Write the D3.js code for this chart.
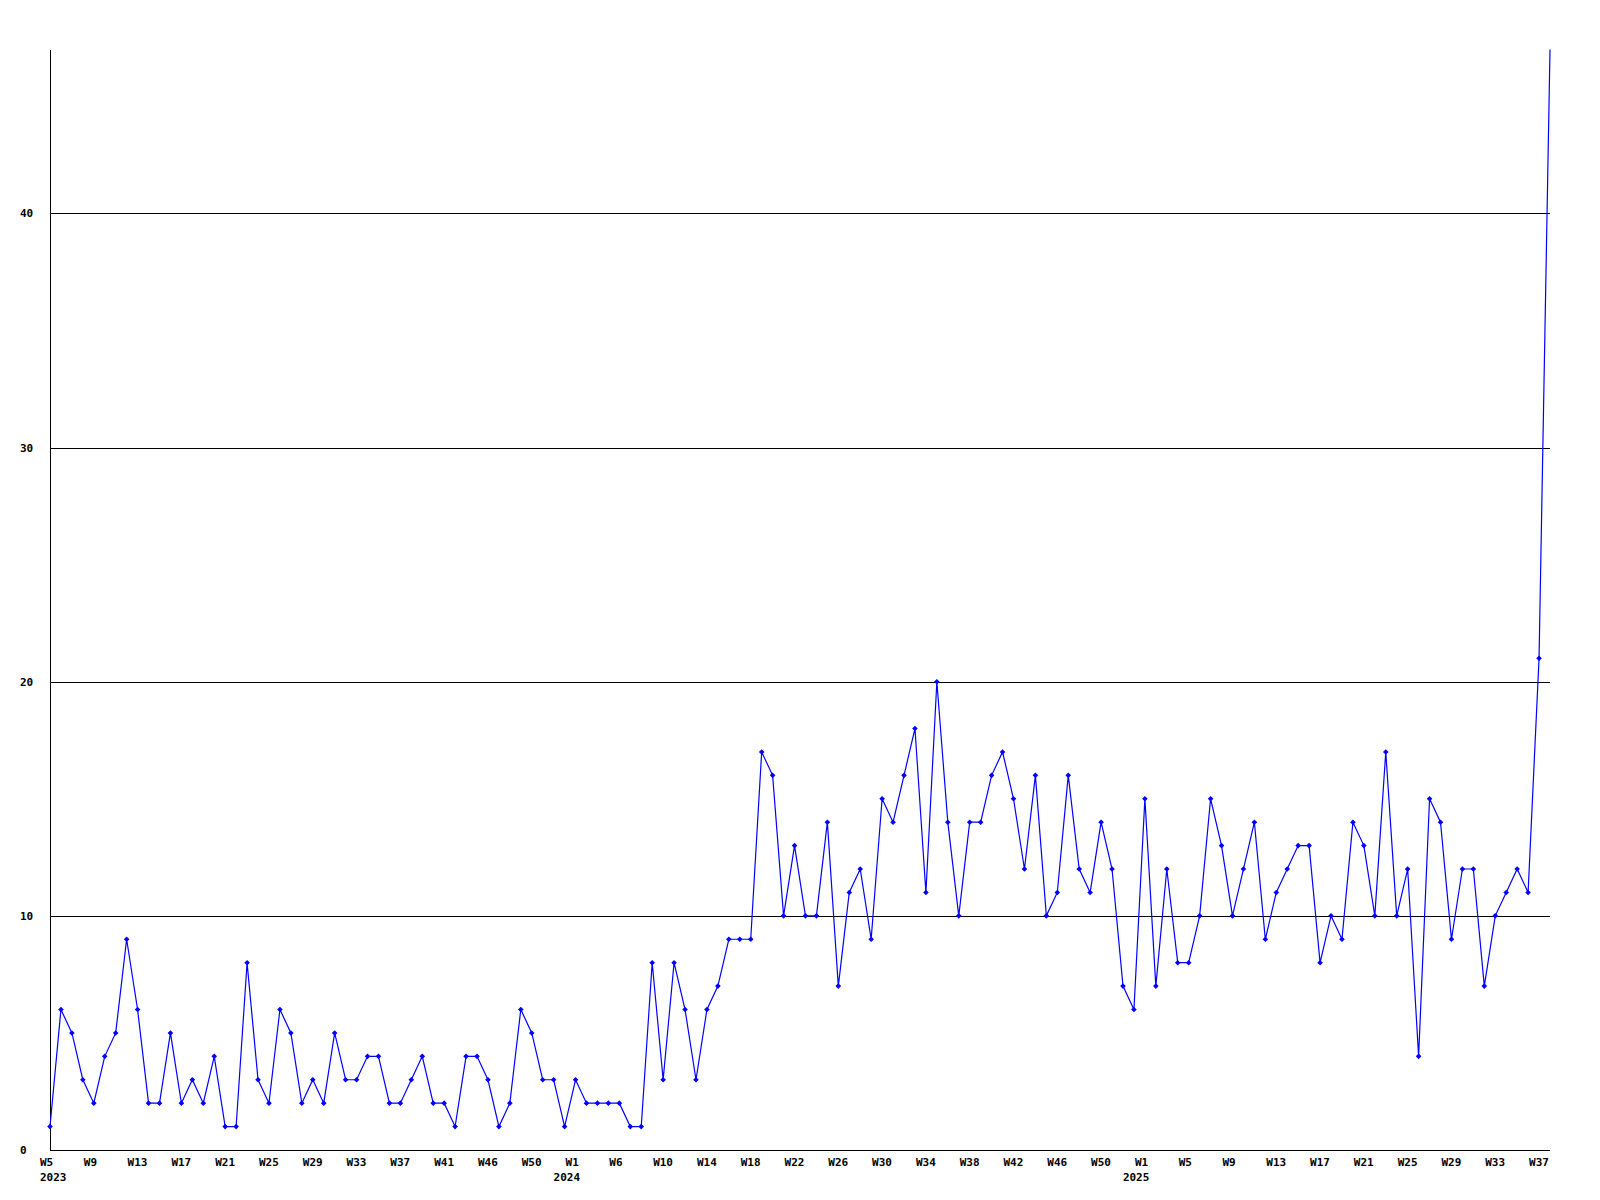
<!DOCTYPE html>
<html>
<head>
<meta charset="utf-8">
<script src="https://cdn.jsdelivr.net/npm/d3@7"></script>
<style>
html,body{margin:0;padding:0;background:#fff;}
svg{display:block;}
text{font-family:"DejaVu Sans Mono",monospace;font-weight:bold;font-size:11px;fill:#000;}
</style>
</head>
<body>
<svg id="chart" width="1600" height="1200"></svg>
<script>
// weekly counts, 2023 W5 .. 2025 W38
const values2023 = [1,6,5,3,2,4,5,9,6,2,2,5,2,3,2,4,1,1,8,3,2,6,5,2,3,2,5,3,3,4,4,2,2,3,4,2,2,1,4,4,3,1,2,6,5,3,3,1];
const values2024 = [3,2,2,2,2,1,1,8,3,8,6,3,6,7,9,9,9,17,16,10,13,10,10,14,7,11,12,9,15,14,16,18,11,20,14,10,14,14,16,17,15,12,16,10,11,16,12,11,14,12,7,6];
const values2025 = [15,7,12,8,8,10,15,13,10,12,14,9,11,12,13,13,8,10,9,14,13,10,17,10,12,4,15,14,9,12,12,7,10,11,12,11,21,47];
const values = values2023.concat(values2024, values2025);

// x tick labels (every 4th point)
const weekLabels = ["W5","W9","W13","W17","W21","W25","W29","W33","W37","W41","W46","W50",
  "W1","W6","W10","W14","W18","W22","W26","W30","W34","W38","W42","W46","W50",
  "W1","W5","W9","W13","W17","W21","W25","W29","W33","W37"];
const yearLabels = [{idx:0,text:"2023"},{idx:48,text:"2024"},{idx:100,text:"2025"}];
const yTicks = [0,10,20,30,40];

(function(){
const svg = d3.select("#chart");
const mL = 50, mR = 1550, mT = 49.5, mB = 1150;
const yMax = d3.max(values);

const x = d3.scaleLinear().domain([0, values.length - 1]).range([mL, mR]);
const y = d3.scaleLinear().domain([0, yMax]).range([mB, mT]);

// gridlines
svg.append("g").selectAll("line").data(yTicks.filter(d => d > 0)).join("line")
  .attr("x1", mL).attr("x2", mR)
  .attr("y1", d => Math.round(y(d)) + 0.5).attr("y2", d => Math.round(y(d)) + 0.5)
  .attr("stroke", "#000").attr("stroke-width", 1).attr("shape-rendering", "crispEdges");

// y labels
svg.append("g").selectAll("text").data(yTicks).join("text")
  .attr("x", 20).attr("y", d => y(d) + 4)
  .text(d => d);

// axes lines
svg.append("line").attr("x1", mL + 0.5).attr("x2", mL + 0.5).attr("y1", mT).attr("y2", mB + 0.5)
  .attr("stroke", "#000").attr("stroke-width", 1.5).attr("shape-rendering", "crispEdges");
svg.append("line").attr("x1", mL).attr("x2", mR).attr("y1", mB + 0.5).attr("y2", mB + 0.5)
  .attr("stroke", "#000").attr("stroke-width", 1.5).attr("shape-rendering", "crispEdges");

// x labels
svg.append("g").selectAll("text").data(weekLabels).join("text")
  .attr("x", (d, i) => x(i * 4) - 10).attr("y", 1166)
  .text(d => d);
svg.append("g").selectAll("text").data(yearLabels).join("text")
  .attr("x", d => Math.max(x(0) - 10, x(d.idx) - 22)).attr("y", 1181)
  .text(d => d.text);

// line
const line = d3.line().x((d, i) => x(i)).y(d => y(d));
svg.append("path").datum(values).attr("d", line)
  .attr("fill", "none").attr("stroke", "#0000ff").attr("stroke-width", 1.2);

// markers (diamond-plus)
svg.append("g").selectAll("path").data(values.map((v, i) => ({v, i})).filter(d => d.v < yMax)).join("path")
  .attr("transform", d => `translate(${x(d.i)},${y(d.v)})`)
  .attr("d", "M0,-2.8L2.8,0L0,2.8L-2.8,0Z")
  .attr("fill", "#0000ff");
})();
</script>
</body>
</html>
